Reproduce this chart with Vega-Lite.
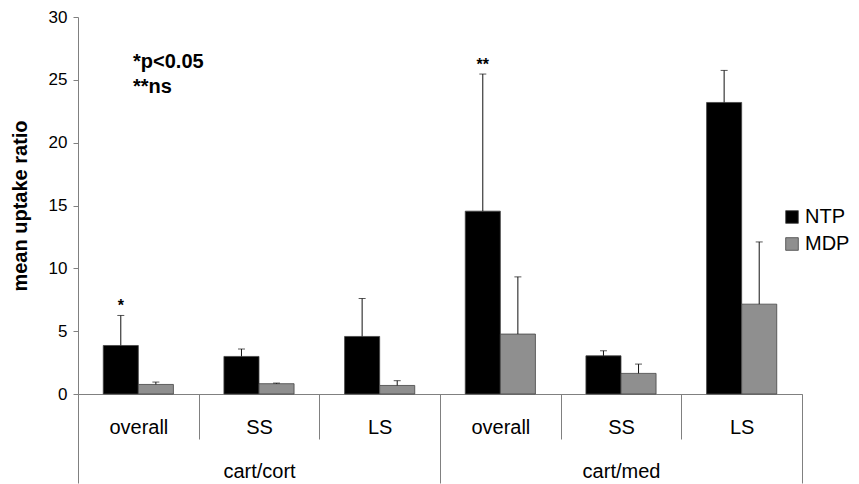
{
  "$schema": "https://vega.github.io/schema/vega-lite/v6.json",
  "width": 724,
  "height": 377,
  "autosize": {"type": "none"},
  "padding": {"left": 78, "top": 17, "right": 57, "bottom": 90},
  "background": "white",
  "config": {
    "font": "Liberation Sans",
    "view": {"stroke": null},
    "axis": {"domainColor": "#808080", "tickColor": "#808080", "labelColor": "black", "titleColor": "black", "grid": false}
  },
  "datasets": {
    "bars": [
      {"cat": "cart/cort|overall", "group": "cart/cort", "series": "NTP", "value": 3.86, "err": 6.25, "sig": "*"},
      {"cat": "cart/cort|overall", "group": "cart/cort", "series": "MDP", "value": 0.76, "err": 0.95, "sig": ""},
      {"cat": "cart/cort|SS", "group": "cart/cort", "series": "NTP", "value": 2.99, "err": 3.58, "sig": ""},
      {"cat": "cart/cort|SS", "group": "cart/cort", "series": "MDP", "value": 0.82, "err": 0.87, "sig": ""},
      {"cat": "cart/cort|LS", "group": "cart/cort", "series": "NTP", "value": 4.58, "err": 7.6, "sig": ""},
      {"cat": "cart/cort|LS", "group": "cart/cort", "series": "MDP", "value": 0.68, "err": 1.06, "sig": ""},
      {"cat": "cart/med|overall", "group": "cart/med", "series": "NTP", "value": 14.55, "err": 25.46, "sig": "**"},
      {"cat": "cart/med|overall", "group": "cart/med", "series": "MDP", "value": 4.77, "err": 9.32, "sig": ""},
      {"cat": "cart/med|SS", "group": "cart/med", "series": "NTP", "value": 3.04, "err": 3.44, "sig": ""},
      {"cat": "cart/med|SS", "group": "cart/med", "series": "MDP", "value": 1.64, "err": 2.38, "sig": ""},
      {"cat": "cart/med|LS", "group": "cart/med", "series": "NTP", "value": 23.2, "err": 25.75, "sig": ""},
      {"cat": "cart/med|LS", "group": "cart/med", "series": "MDP", "value": 7.15, "err": 12.1, "sig": ""}
    ],
    "notes": [
      {"note": "*p<0.05", "cat": "cart/cort|overall", "level": 26.44},
      {"note": "**ns", "cat": "cart/cort|overall", "level": 24.4}
    ]
  },
  "layer": [
    {
      "layer": [
        {
          "data": {"name": "bars"},
          "mark": {"type": "bar", "stroke": "#444", "strokeWidth": 0.8},
          "encoding": {
            "x": {"field": "cat", "type": "nominal", "sort": null,
                  "scale": {"paddingInner": 0, "paddingOuter": 0},
                  "axis": {"orient": "bottom", "title": null, "labelExpr": "split(datum.label, '|')[1]", "labelAngle": 0,
                           "tickBand": "extent", "tickSize": 45, "labelPadding": -12, "labelBaseline": "middle",
                           "labelFontSize": 20}},
            "xOffset": {"field": "series", "type": "nominal", "sort": ["NTP", "MDP"], "scale": {"paddingInner": 0, "paddingOuter": 0.72}},
            "y": {"field": "value", "type": "quantitative", "scale": {"domain": [0, 30], "nice": false},
                  "axis": {"title": "mean uptake ratio", "titleFontSize": 20, "titleFontWeight": "bold", "titlePadding": 18,
                           "values": [0, 5, 10, 15, 20, 25, 30], "tickSize": 5, "labelPadding": 6, "labelFontSize": 17}},
            "color": {"field": "series", "type": "nominal", "sort": ["NTP", "MDP"],
                      "scale": {"domain": ["NTP", "MDP"], "range": ["#000000", "#8f8f8f"]},
                      "legend": {"title": null, "orient": "none", "legendX": 704, "legendY": 190, "symbolType": "square",
                                 "symbolSize": 160, "labelFontSize": 20, "labelOffset": 3, "rowPadding": 7,
                                 "symbolStrokeColor": "#444", "symbolStrokeWidth": 0.8, "labelColor": "black"}}
          }
        },
        {
          "data": {"name": "bars"},
          "mark": {"type": "rule", "color": "#111", "strokeWidth": 1},
          "encoding": {
            "x": {"field": "cat", "type": "nominal", "sort": null},
            "xOffset": {"field": "series", "type": "nominal", "sort": ["NTP", "MDP"]},
            "y": {"field": "value", "type": "quantitative"},
            "y2": {"field": "err"}
          }
        },
        {
          "data": {"name": "bars"},
          "mark": {"type": "tick", "color": "#111", "thickness": 1, "size": 7, "orient": "horizontal"},
          "encoding": {
            "x": {"field": "cat", "type": "nominal", "sort": null},
            "xOffset": {"field": "series", "type": "nominal", "sort": ["NTP", "MDP"]},
            "y": {"field": "err", "type": "quantitative"}
          }
        },
        {
          "data": {"name": "bars"},
          "mark": {"type": "text", "fontSize": 16, "fontWeight": "bold", "baseline": "middle", "dy": -9, "color": "black"},
          "encoding": {
            "x": {"field": "cat", "type": "nominal", "sort": null},
            "xOffset": {"field": "series", "type": "nominal", "sort": ["NTP", "MDP"]},
            "y": {"field": "err", "type": "quantitative"},
            "text": {"field": "sig"}
          }
        },
        {
          "data": {"name": "notes"},
          "mark": {"type": "text", "fontSize": 20, "fontWeight": "bold", "align": "left", "baseline": "middle", "color": "black"},
          "encoding": {
            "x": {"field": "cat", "type": "nominal", "sort": null, "bandPosition": 0.456},
            "y": {"field": "level", "type": "quantitative"},
            "text": {"field": "note"}
          }
        }
      ]
    },
    {
      "data": {"name": "bars"},
      "mark": {"type": "tick", "opacity": 0},
      "encoding": {
        "x": {"field": "group", "type": "nominal", "sort": null,
              "scale": {"paddingInner": 0, "paddingOuter": 0},
              "axis": {"orient": "bottom", "title": null, "labelAngle": 0, "domain": false, "tickBand": "extent",
                       "tickSize": 89, "labelPadding": -12, "labelBaseline": "middle", "labelFontSize": 20}}
      }
    }
  ],
  "resolve": {"scale": {"x": "independent"}, "axis": {"x": "independent"}}
}
